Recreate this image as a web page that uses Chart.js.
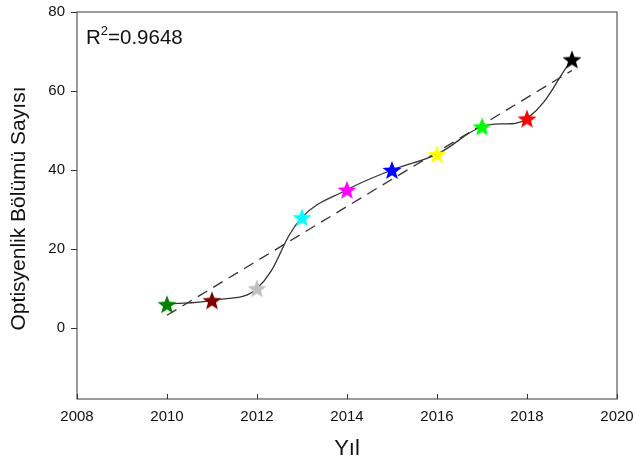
<!DOCTYPE html>
<html>
<head>
<meta charset="utf-8">
<script src="https://cdn.jsdelivr.net/npm/chart.js@4"></script>
<style>
  body { margin: 0; background: #fff; }
  #wrap { width: 635px; height: 465px; }
</style>
</head>
<body>
<div id="wrap"><canvas id="canvas"></canvas></div>
<script>
var years = [2010, 2011, 2012, 2013, 2014, 2015, 2016, 2017, 2018, 2019];
var counts = [6, 7, 10, 28, 35, 40, 44, 51, 53, 68];
var starColors = ['#008000', '#800000', '#c0c0c0', '#00ffff', '#ff00ff', '#0000ff', '#ffff00', '#00ff00', '#ff0000', '#000000'];
var fitYears = [2010, 2019];
var fitValues = [3.2, 65.2];
var xTicks = [2008, 2010, 2012, 2014, 2016, 2018, 2020];
var yTicks = [0, 20, 40, 60, 80];
var r2Text = '0.9648';

function makeStar(color) {
	var s = 22, c = document.createElement('canvas');
	c.width = s; c.height = s;
	var g = c.getContext('2d');
	var R = 10, r = 4.2, cx = s / 2, cy = s / 2 + 1;
	g.beginPath();
	for (var i = 0; i < 10; i++) {
		var rad = i % 2 ? r : R;
		var a = -Math.PI / 2 + i * Math.PI / 5;
		g.lineTo(cx + rad * Math.cos(a), cy + rad * Math.sin(a));
	}
	g.closePath();
	g.fillStyle = color;
	g.fill();
	return c;
}

var curvePts = [], fitPts = [];
for (var i in years) curvePts.push({x: years[i], y: counts[i]});
for (var j in fitYears) fitPts.push({x: fitYears[j], y: fitValues[j]});

var frame = {
	id: 'frame',
	afterDraw: function(chart) {
		var ctx = chart.ctx, a = chart.chartArea;
		var xs = chart.scales.x, ys = chart.scales.y;
		var font = '"Liberation Sans", Arial, sans-serif';
		ctx.save();
		ctx.strokeStyle = '#666';
		ctx.lineWidth = 1.3;
		ctx.strokeRect(a.left, a.top, a.right - a.left, a.bottom - a.top);
		ctx.lineWidth = 1;
		ctx.strokeStyle = '#333';
		ctx.beginPath();
		xTicks.forEach(function(v) {
			var px = Math.round(xs.getPixelForValue(v)) + 0.5;
			ctx.moveTo(px, a.bottom); ctx.lineTo(px, a.bottom - 5);
		});
		yTicks.forEach(function(v) {
			var py = Math.round(ys.getPixelForValue(v)) + 0.5;
			ctx.moveTo(a.left, py); ctx.lineTo(a.left - 6, py);
		});
		ctx.stroke();
		ctx.fillStyle = '#111';
		ctx.font = '15px ' + font;
		ctx.textAlign = 'center';
		ctx.textBaseline = 'middle';
		xTicks.forEach(function(v) {
			ctx.fillText(String(v), xs.getPixelForValue(v), a.bottom + 18);
		});
		ctx.textAlign = 'right';
		yTicks.forEach(function(v) {
			ctx.fillText(String(v), a.left - 12, ys.getPixelForValue(v));
		});
		// R^2 label
		ctx.textAlign = 'left';
		ctx.textBaseline = 'alphabetic';
		ctx.font = '20.5px ' + font;
		var x0 = a.left + 9, y0 = a.top + 32;
		ctx.fillText('R', x0, y0);
		var w = ctx.measureText('R').width;
		ctx.font = '13px ' + font;
		ctx.fillText('2', x0 + w, y0 - 9);
		var w2 = ctx.measureText('2').width;
		ctx.font = '20.5px ' + font;
		ctx.fillText('=' + r2Text, x0 + w + w2, y0);
		// axis titles
		ctx.textAlign = 'center';
		ctx.textBaseline = 'middle';
		ctx.font = '22px ' + font;
		ctx.fillText('Yıl', (a.left + a.right) / 2, 449);
		ctx.save();
		ctx.translate(19, (a.top + a.bottom) / 2 + 3);
		ctx.rotate(-Math.PI / 2);
		ctx.font = '21px ' + font;
		ctx.fillText('Optisyenlik Bölümü Sayısı', 0, 0);
		ctx.restore();
		ctx.restore();
	}
};

var c = document.getElementById('canvas');
new Chart(c, {
	type: 'scatter',
	data: {
		datasets: [
			{
				label: 'stars',
				data: curvePts,
				pointStyle: starColors.map(makeStar),
				pointRadius: 10,
				showLine: false,
				order: 0
			},
			{
				label: 'curve',
				data: curvePts,
				showLine: true,
				borderColor: '#333',
				borderWidth: 1.3,
				tension: 0.4,
				pointRadius: 0,
				order: 1
			},
			{
				label: 'fit',
				data: fitPts,
				showLine: true,
				borderColor: '#333',
				borderWidth: 1.3,
				borderDash: [11, 7],
				pointRadius: 0,
				order: 2
			}
		]
	},
	options: {
		responsive: true,
		maintainAspectRatio: false,
		animation: false,
		layout: { padding: { left: 77, right: 18, top: 12, bottom: 66 } },
		plugins: { legend: { display: false }, tooltip: { enabled: false } },
		scales: {
			x: {
				type: 'linear', min: 2008, max: 2020,
				grid: { display: false, drawTicks: false },
				border: { display: false },
				ticks: { display: false }
			},
			y: {
				type: 'linear', min: -18, max: 80,
				grid: { display: false, drawTicks: false },
				border: { display: false },
				ticks: { display: false }
			}
		}
	},
	plugins: [frame]
});
</script>
</body>
</html>
